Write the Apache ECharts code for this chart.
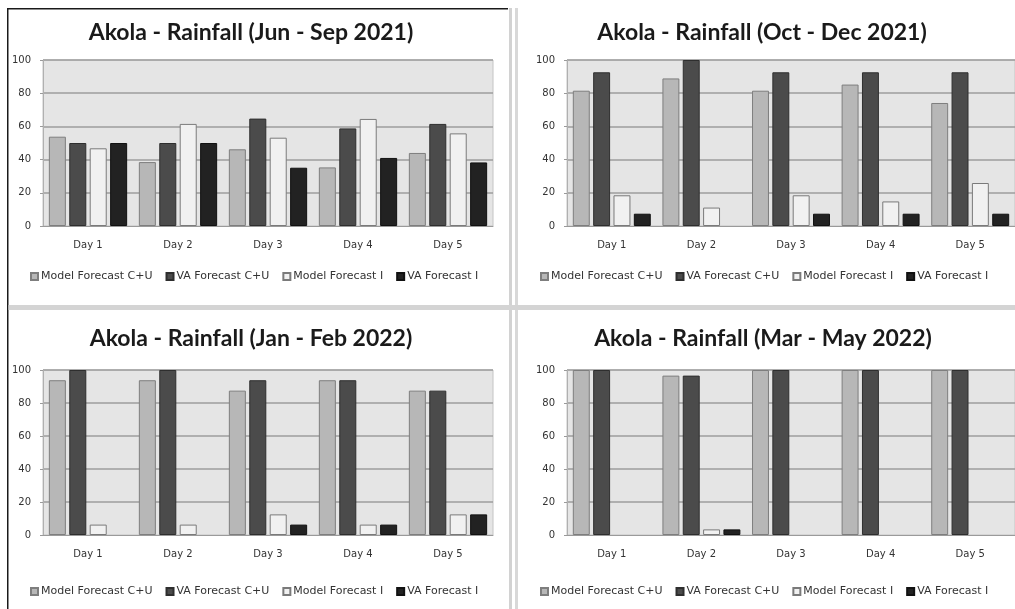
<!DOCTYPE html>
<html>
<head>
<meta charset="utf-8">
<title>Akola - Rainfall</title>
<script src="https://cdn.jsdelivr.net/npm/echarts@6/dist/echarts.min.js"></script>
<style>
  html, body { margin: 0; padding: 0; background: #ffffff; }
  #chart { width: 1015px; height: 609px; }
</style>
</head>
<body>
<div id="chart"></div>
<script>
// Forecast verification scores (%) for Akola, by lead day
const days = ['Day 1', 'Day 2', 'Day 3', 'Day 4', 'Day 5'];
const seriesNames = ['Model Forecast C+U', 'VA Forecast C+U', 'Model Forecast I', 'VA Forecast I'];

const titles = [
  'Akola - Rainfall (Jun - Sep 2021)',
  'Akola - Rainfall (Oct - Dec 2021)',
  'Akola - Rainfall (Jan - Feb 2022)',
  'Akola - Rainfall (Mar - May 2022)'
];

// Jun - Sep 2021
const junSepModelCU = [53.8, 38.5, 46.2, 35.3, 44.0];
const junSepVACU    = [50.0, 50.0, 64.7, 58.8, 61.5];
const junSepModelI  = [46.8, 61.5, 53.2, 64.5, 55.8];
const junSepVAI     = [50.0, 50.0, 35.1, 41.0, 38.3];

// Oct - Dec 2021
const octDecModelCU = [81.5, 88.9, 81.5, 85.2, 74.1];
const octDecVACU    = [92.6, 100, 92.6, 92.6, 92.6];
const octDecModelI  = [18.5, 11.1, 18.5, 14.8, 25.9];
const octDecVAI     = [7.4, 0, 7.4, 7.4, 7.4];

// Jan - Feb 2022
const janFebModelCU = [93.8, 93.8, 87.5, 93.8, 87.5];
const janFebVACU    = [100, 100, 93.8, 93.8, 87.5];
const janFebModelI  = [6.3, 6.3, 12.5, 6.3, 12.5];
const janFebVAI     = [0, 0, 6.3, 6.3, 12.5];

// Mar - May 2022
const marMayModelCU = [100, 96.6, 100, 100, 100];
const marMayVACU    = [100, 96.6, 100, 100, 100];
const marMayModelI  = [0, 3.4, 0, 0, 0];
const marMayVAI     = [0, 3.4, 0, 0, 0];

const yTicks = { min: 0, max: 100, interval: 20 };

const panelData = [
  [junSepModelCU, junSepVACU, junSepModelI, junSepVAI],
  [octDecModelCU, octDecVACU, octDecModelI, octDecVAI],
  [janFebModelCU, janFebVACU, janFebModelI, janFebVAI],
  [marMayModelCU, marMayVACU, marMayModelI, marMayVAI]
];

// Bar fills and outlines, one per series
const barStyles = [
  { color: '#b7b7b7', borderColor: '#7e7e7e' },
  { color: '#4b4b4b', borderColor: '#2e2e2e' },
  { color: '#f1f1f1', borderColor: '#7a7a7a' },
  { color: '#222222', borderColor: '#111111' }
];

// Panel layout: plot rectangles, title and legend positions
const panels = [
  { left: 43,  top: 60,  height: 166, titleX: 251, titleY: 33,  legendX: 25,  legendY: 266 },
  { left: 567, top: 60,  height: 166, titleX: 762, titleY: 33,  legendX: 535, legendY: 266 },
  { left: 43,  top: 370, height: 165, titleX: 251, titleY: 339, legendX: 25,  legendY: 581 },
  { left: 567, top: 370, height: 165, titleX: 763, titleY: 339, legendX: 535, legendY: 581 }
];

const labelFont = 'DejaVu Sans';

const grid = [], xAxis = [], yAxis = [], series = [], legend = [], graphic = [];

panels.forEach(function (p, i) {
  grid.push({
    left: p.left, top: p.top, width: 450, height: p.height,
    show: true, backgroundColor: '#e5e5e5', borderColor: '#c4c4c4', borderWidth: 1
  });
  xAxis.push({
    type: 'category', gridIndex: i, data: days,
    axisLine: { show: true, lineStyle: { color: '#9a9a9a', width: 1 } },
    axisTick: { show: false },
    axisLabel: { color: '#333', fontFamily: labelFont, fontSize: 10, margin: 14 },
    splitLine: { show: false }
  });
  yAxis.push({
    type: 'value', gridIndex: i, min: yTicks.min, max: yTicks.max, interval: yTicks.interval,
    axisLine: { show: true, lineStyle: { color: '#b0b0b0', width: 1 } },
    axisTick: { show: true, length: 3, lineStyle: { color: '#9a9a9a' } },
    axisLabel: { color: '#333', fontFamily: labelFont, fontSize: 10, margin: 12 },
    splitLine: { show: true, showMinLine: false, showMaxLine: true, lineStyle: { color: '#9c9c9c', width: 1.5 } }
  });
  seriesNames.forEach(function (name, k) {
    series.push({
      type: 'bar', name: name, xAxisIndex: i, yAxisIndex: i,
      // zero-height bars carry no outline so nothing is drawn for them
      data: panelData[i][k].map(function (v) {
        return { value: v, itemStyle: { borderWidth: v === 0 ? 0 : 1 } };
      }),
      barCategoryGap: '13%', barGap: '20%',
      itemStyle: { color: barStyles[k].color, borderColor: barStyles[k].borderColor, borderWidth: 1 },
      emphasis: { disabled: true }
    });
  });
  legend.push({
    left: p.legendX, top: p.legendY, orient: 'horizontal',
    data: seriesNames, icon: 'rect', itemWidth: 7, itemHeight: 7, itemGap: 13,
    textStyle: { color: '#333', fontFamily: labelFont, fontSize: 11, padding: [0, 0, 0, -2] },
    selectedMode: false
  });
  graphic.push({
    type: 'text', x: p.titleX, y: p.titleY,
    style: {
      text: titles[i], fill: '#1a1a1a', font: 'bold 23px Lato',
      textAlign: 'center', textVerticalAlign: 'middle'
    }
  });
});

// Panel frames and separators
graphic.push(
  { type: 'rect', shape: { x: 7, y: 8, width: 1.5, height: 601 }, style: { fill: '#1a1a1a' } },
  { type: 'rect', shape: { x: 7, y: 8, width: 501, height: 1.5 }, style: { fill: '#1a1a1a' } },
  { type: 'rect', shape: { x: 509, y: 8, width: 3, height: 601 }, style: { fill: '#d2d2d2' } },
  { type: 'rect', shape: { x: 515, y: 8, width: 3, height: 601 }, style: { fill: '#d8d8d8' } },
  { type: 'rect', shape: { x: 8.5, y: 305, width: 1007, height: 5 }, style: { fill: '#d4d4d4' } }
);

const chart = echarts.init(document.getElementById('chart'), null, { renderer: 'canvas' });
chart.setOption({
  animation: false,
  backgroundColor: '#ffffff',
  grid: grid, xAxis: xAxis, yAxis: yAxis, series: series, legend: legend, graphic: graphic
});
</script>
</body>
</html>
